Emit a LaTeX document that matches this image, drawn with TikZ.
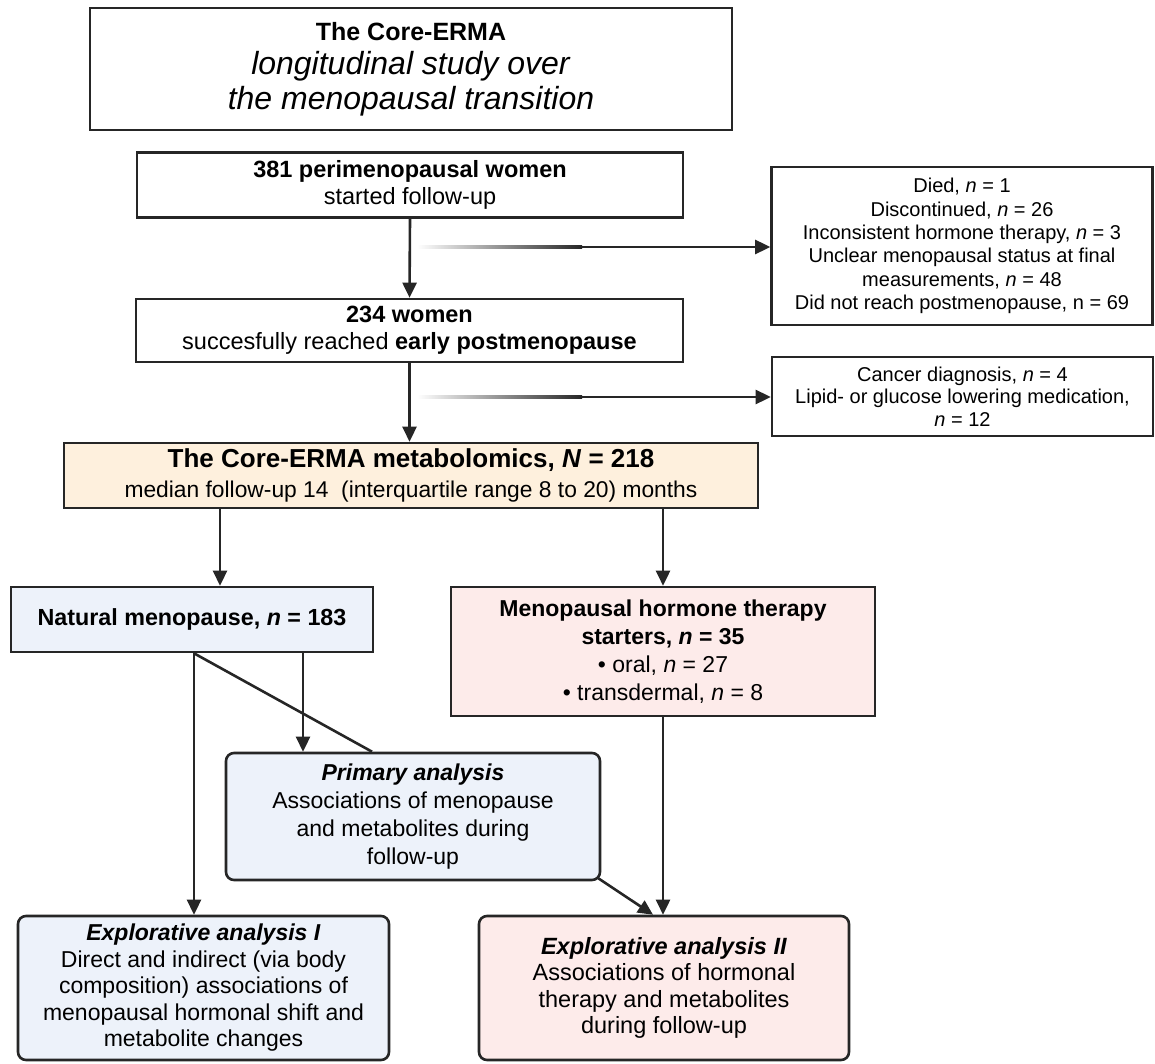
\documentclass[tikz,border=0pt]{standalone}
\usepackage{fontspec}
\setmainfont{Liberation Sans}
\usetikzlibrary{arrows.meta,calc}
\definecolor{ln}{HTML}{262626}
\definecolor{peach}{HTML}{FEF0DD}
\definecolor{paleblue}{HTML}{EDF2FA}
\definecolor{palepink}{HTML}{FDEBEA}
\begin{document}
\begin{tikzpicture}[x=1pt,y=-1pt,
  box/.style={draw=ln, line width=2.6pt, inner sep=0pt, align=center, text=black},
  rbox/.style={box, rounded corners=8pt},
  arr/.style={draw=ln, line width=2.6pt, -{Triangle[length=15pt,width=14pt]}},
  plain/.style={draw=ln, line width=2.6pt}]
\useasboundingbox (0,0) rectangle (1155,1064);

% title
\node[box, minimum width=642pt, minimum height=122pt, font=\fontsize{32}{34.5}\selectfont] (title) at (411,69)
 {{\fontsize{25}{34.5}\selectfont\bfseries The Core-ERMA}\\
  \textit{longitudinal study over}\\
  \textit{the menopausal transition}};

\node[box, minimum width=546pt, minimum height=65pt, font=\fontsize{23.5}{27}\selectfont] (b381) at (410,185)
 {\textbf{381 perimenopausal women}\\ started follow-up};

\node[box, minimum width=547pt, minimum height=63pt, font=\fontsize{23.5}{27}\selectfont] (b234) at (409.5,330.5)
 {\textbf{234 women}\\ succesfully reached \textbf{early postmenopause}};

\node[box, minimum width=381pt, minimum height=158pt, font=\fontsize{20}{23.3}\selectfont] (excl1) at (962,246)
 {Died, \textit{n} = 1\\ Discontinued, \textit{n} = 26\\ Inconsistent hormone therapy, \textit{n} = 3\\
  Unclear menopausal status at final\\ measurements, \textit{n} = 48\\ Did not reach postmenopause, n = 69};

\node[box, minimum width=381pt, minimum height=79pt, font=\fontsize{20}{22.5}\selectfont] (excl2) at (962.5,396.5)
 {Cancer diagnosis, \textit{n} = 4\\ Lipid- or glucose lowering medication,\\ \textit{n} = 12};

\node[box, fill=peach, minimum width=694pt, minimum height=65pt, font=\fontsize{22.8}{30}\selectfont] (meta) at (411,475.5)
 {{\fontsize{26}{30}\selectfont\bfseries The Core-ERMA metabolomics, \textit{N} = 218}\\
  median follow-up 14\ \ (interquartile range 8 to 20) months};

\node[box, fill=paleblue, minimum width=362pt, minimum height=65pt, font=\fontsize{23.3}{28}\selectfont\bfseries] (natural) at (192,619.5)
 {Natural menopause, \textit{n} = 183};

\node[box, fill=palepink, minimum width=424pt, minimum height=129pt, font=\fontsize{23}{28}\selectfont] (mht) at (663,651.5)
 {\textbf{Menopausal hormone therapy}\\ \textbf{starters, \textit{n} = 35}\\
  \textbullet{} oral, \textit{n} = 27\\ \textbullet{} transdermal, \textit{n} = 8};

\node[rbox, fill=paleblue, minimum width=374pt, minimum height=127pt, font=\fontsize{23}{28}\selectfont] (primary) at (413,816.5)
 {\textbf{\textit{Primary analysis}}\\ Associations of menopause\\ and metabolites during\\ follow-up};

\node[rbox, fill=paleblue, minimum width=371pt, minimum height=144pt, font=\fontsize{23}{26.5}\selectfont] (explI) at (203.5,988)
 {\textbf{\textit{Explorative analysis I}}\\ Direct and indirect (via body\\ composition) associations of\\
  menopausal hormonal shift and\\ metabolite changes};

\node[rbox, fill=palepink, minimum width=370pt, minimum height=144pt, font=\fontsize{23.5}{26.5}\selectfont] (explII) at (664,988)
 {\textbf{\textit{Explorative analysis II}}\\ Associations of hormonal\\ therapy and metabolites\\ during follow-up};

% main flow
\draw[arr] (b381.south) -- (b234.north);
\draw[arr] (b234.south) -- (b234.south |- meta.north);

% gradient exclusion arrows
\coordinate (g1) at (417,247);
\coordinate (g2) at (417,397);
\shade[left color=white, right color=ln] ($(g1)+(0,-1.3)$) rectangle ($(g1)+(165,1.3)$);
\draw[arr] ($(g1)+(163,0)$) -- (excl1.west |- g1);
\shade[left color=white, right color=ln] ($(g2)+(0,-1.3)$) rectangle ($(g2)+(165,1.3)$);
\draw[arr] ($(g2)+(163,0)$) -- (excl2.west |- g2);

% split
\coordinate (cl) at (220,0);
\coordinate (cr) at (663,0);
\draw[arr] (meta.south -| cl) -- (natural.north -| cl);
\draw[arr] (meta.south -| cr) -- (mht.north -| cr);

% from natural
\coordinate (cn) at (194,0);
\coordinate (cp) at (303,0);
\coordinate (cd) at (372,0);
\draw[arr] (natural.south -| cn) -- (explI.north -| cn);
\draw[plain] (natural.south -| cn) -- (primary.north -| cd);
\draw[arr] (natural.south -| cp) -- (primary.north -| cp);

% to explorative II
\draw[arr] (mht.south -| cr) -- (explII.north -| cr);
\coordinate (ce) at (653,0);
\draw[arr] ([shift={(-3,-3)}]primary.south east) -- (explII.north -| ce);
\end{tikzpicture}
\end{document}
